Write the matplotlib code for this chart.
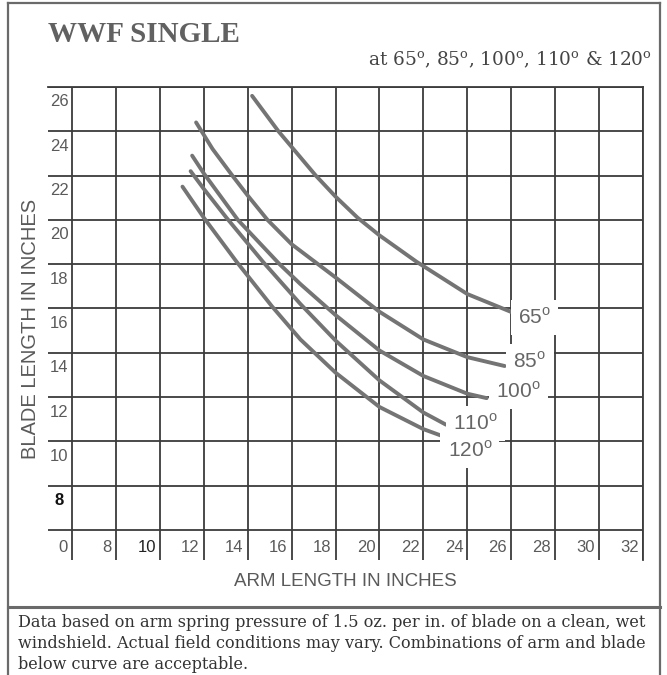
import numpy as np
import matplotlib
matplotlib.use('Agg')
import matplotlib.pyplot as plt
from matplotlib.lines import Line2D
from matplotlib.transforms import offset_copy

# curve data (arm length, blade length) in inches
angles = ["65", "85", "100", "110", "120"]
arm_65 = [14.2, 15.4, 17.1, 18.0, 19.0, 20.0, 21.7, 24.0, 26.1]
blade_65 = [25.6, 24.0, 22.0, 21.05, 20.1, 19.3, 18.1, 16.65, 15.8]
arm_85 = [11.65, 12.4, 13.3, 14.0, 14.9, 16.0, 18.0, 20.0, 22.0, 24.0, 25.7]
blade_85 = [24.4, 23.2, 22.0, 21.1, 20.0, 18.9, 17.4, 15.85, 14.6, 13.8, 13.4]
arm_100 = [11.47, 12.0, 13.55, 15.45, 16.4, 18.0, 20.0, 22.0, 24.0, 24.88]
blade_100 = [22.9, 22.1, 20.0, 18.0, 17.1, 15.7, 14.1, 12.95, 12.15, 11.95]
arm_110 = [11.4, 12.0, 13.03, 14.7, 16.4, 18.0, 20.0, 22.0, 23.03]
blade_110 = [22.2, 21.4, 20.1, 18.1, 16.2, 14.55, 12.75, 11.3, 10.75]
arm_120 = [11.03, 12.0, 13.5, 15.1, 16.4, 18.0, 20.0, 22.0, 22.83]
blade_120 = [21.5, 20.1, 18.1, 16.1, 14.6, 13.1, 11.55, 10.55, 10.25]

x_ticks = [0, 8, 10, 12, 14, 16, 18, 20, 22, 24, 26, 28, 30, 32]
y_ticks = [0, 8, 10, 12, 14, 16, 18, 20, 22, 24, 26]

# where each curve label sits (left edge, middle)
label_x = [26.3, 26.1, 25.3, 23.35, 23.1]
label_y = [15.6, 13.6, 12.25, 10.8, 9.6]

GRID = '#3c3c3c'
INK = '#5a5a5a'
CURVE = '#747474'


# broken axis: 0..8 squeezed into one cell, then 2 inches per cell
def fwd(v):
    v = np.asarray(v, dtype=float)
    return np.where(v <= 8, v / 8.0, 1 + (v - 8) / 2.0)


def inv(u):
    u = np.asarray(u, dtype=float)
    return np.where(u <= 1, u * 8.0, 8 + (u - 1) * 2.0)


W, H = 667, 675
fig = plt.figure(figsize=(W / 100, H / 100), dpi=100)


def px(x, y):
    return x / W, 1 - y / H


# plot box: 48..643 px wide, 87..560 px tall
ax = fig.add_axes([48 / W, 1 - 560 / H, (643 - 48) / W, (560 - 87) / H])
ax.set_xscale('function', functions=(fwd, inv))
ax.set_yscale('function', functions=(fwd, inv))
ax.set_xlim(float(inv(-0.547)), 32)
ax.set_ylim(float(inv(-0.68)), 26)
ax.set_xticks(x_ticks)
ax.set_yticks(y_ticks)
ax.minorticks_off()
ax.tick_params(length=0, labelbottom=False, labelleft=False)
ax.grid(True, color=GRID, lw=1.3)
for side in ['left', 'bottom']:
    ax.spines[side].set_visible(False)
for side in ['top', 'right']:
    ax.spines[side].set_color(GRID)
    ax.spines[side].set_linewidth(1.3)

curves = [(arm_65, blade_65), (arm_85, blade_85), (arm_100, blade_100),
          (arm_110, blade_110), (arm_120, blade_120)]
for xs, ys in curves:
    ax.plot(xs, ys, color=CURVE, lw=2.8, solid_capstyle='round',
            solid_joinstyle='round', zorder=3)

for ang, lx, ly in zip(angles, label_x, label_y):
    ax.text(lx, ly, ang + r'$^{\mathregular{o}}$', family='Liberation Sans',
            fontsize=15, color='#666666', ha='left', va='center', zorder=4,
            bbox=dict(boxstyle='square,pad=0.35', fc='white', ec='none'))

# tick labels sit inside the corner cell next to each line;
# the corner cell holds one shared "0"
tick_font = ['Liberation Sans Narrow', 'Liberation Sans', 'DejaVu Sans']
xt = offset_copy(ax.transData, fig=fig, x=-4, y=-18, units='dots')
for v in x_ticks:
    ax.text(v, 0, str(v), transform=xt, ha='right', va='center',
            family=tick_font, fontsize=12,
            color='#222222' if v == 10 else INK)
yt = offset_copy(ax.transData, fig=fig, x=-13, y=-15, units='dots')
for v in y_ticks[1:]:
    ax.text(0, v, str(v), transform=yt, ha='center', va='center',
            family=tick_font, fontsize=12,
            color='#111111' if v == 8 else INK,
            fontweight='bold' if v == 8 else 'normal')

fig.text(*px(345, 582), 'ARM LENGTH IN INCHES', family='Liberation Sans',
         fontsize=13.5, color=INK, ha='center', va='center')
fig.text(*px(31, 329), 'BLADE LENGTH IN INCHES', family='Liberation Sans',
         fontsize=14.5, color=INK, ha='center', va='center', rotation=90)

# heading
fig.text(*px(48, 42), 'WWF SINGLE', family='Liberation Serif', fontsize=21,
         fontweight='bold', color='#616161', ha='left', va='baseline')
fig.text(*px(652, 65),
         r'at 65$^{\mathregular{o}}$, 85$^{\mathregular{o}}$, '
         r'100$^{\mathregular{o}}$, 110$^{\mathregular{o}}$ & 120$^{\mathregular{o}}$',
         family='DejaVu Serif', fontsize=13.3, color='#444444',
         ha='right', va='baseline')

# outer frame and footer box
frame = dict(color='#6a6a6a', lw=1.6, transform=fig.transFigure)
fig.add_artist(Line2D([8 / W, 8 / W], [0, 1 - 3 / H], **frame))
fig.add_artist(Line2D([660 / W, 660 / W], [0, 1 - 3 / H], **frame))
fig.add_artist(Line2D([8 / W, 660 / W], [1 - 3 / H, 1 - 3 / H], **frame))
fig.add_artist(Line2D([8 / W, 660 / W], [1 - 607 / H, 1 - 607 / H],
                      color='#6a6a6a', lw=2.2, transform=fig.transFigure))

footer = [
    'Data based on arm spring pressure of 1.5 oz. per in. of blade on a clean, wet',
    'windshield. Actual field conditions may vary. Combinations of arm and blade',
    'below curve are acceptable.',
]
for i, line in enumerate(footer):
    fig.text(*px(18, 627 + 21 * i), line, family='DejaVu Serif',
             fontsize=11.6, color='#333333', ha='left', va='baseline')

fig.savefig('out.png', dpi=100, facecolor='white')
